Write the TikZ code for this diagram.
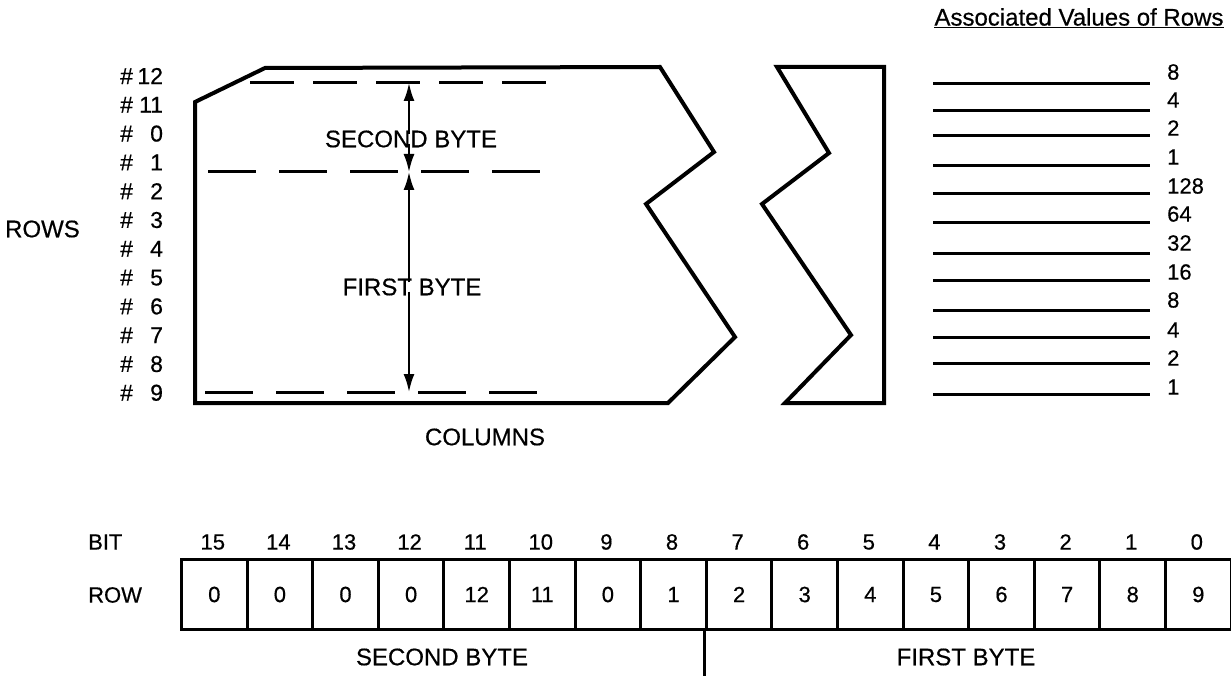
\documentclass[tikz,border=0pt]{standalone}
\usepackage{fontspec}
\setmainfont{Liberation Sans}[FakeBold=0.5]
\usetikzlibrary{arrows.meta}
\begin{document}
\begin{tikzpicture}[x=1pt,y=-1pt,
  big/.style={font=\fontsize{24}{28}\selectfont, inner sep=0pt},
  num/.style={font=\fontsize{22}{26}\selectfont, inner sep=0pt},
  rowlab/.style={font=\fontsize{23}{27}\selectfont, inner sep=0pt},
  card/.style={line width=4pt, line join=miter},
  dashln/.style={line width=3pt},
  valline/.style={line width=3pt},
  cell/.style={draw, line width=3pt, minimum width=65.6pt, minimum height=70pt, inner sep=0pt, font=\fontsize{22}{26}\selectfont, anchor=north west},
  arr/.style={line width=2pt, -{Latex[length=18pt,width=11pt]}}
]
\useasboundingbox (0,0) rectangle (1231,676);

% ---- card pieces ----
\draw[card] (195,102) -- (265,68) -- (660,67) -- (714,152) -- (646,204) -- (735,337) -- (668,403) -- (195,403) -- cycle;
\draw[card] (777,67) -- (829,153) -- (762,204) -- (851,335) -- (785,403) -- (884,403) -- (884,67) -- cycle;

% ---- dashed lines ----
\coordinate (d1a) at (250,83);  \coordinate (d1b) at (547,83);
\coordinate (d2a) at (208,172); \coordinate (d2b) at (540,172);
\coordinate (d3a) at (205,392); \coordinate (d3b) at (543,392);
\draw[dashln, dash pattern=on 44pt off 19pt] (d1a) -- (d1b);
\draw[dashln, dash pattern=on 48pt off 23pt] (d2a) -- (d2b);
\draw[dashln, dash pattern=on 48pt off 23pt] (d3a) -- (d3b);

% ---- byte arrows ----
\node[big] (sb) at (411,139) {SECOND BYTE};
\node[big] (fb) at (412,287) {FIRST BYTE};
\coordinate (t1) at (409,83);
\coordinate (t2) at (409,172);
\coordinate (t3) at (409,392);
\draw[arr] ([yshift=-4pt]sb.north -| t1) -- (t1);
\draw[arr] ([yshift=4pt]sb.south -| t1) -- (t2);
\draw[arr] ([yshift=-4pt]fb.north -| t1) -- (t2);
\draw[arr] ([yshift=4pt]fb.south -| t1) -- (t3);

% ---- row labels ----
\node[big, anchor=east] (rows) at (80,229) {ROWS};
\foreach \n [count=\i from 0] in {12,11,0,1,2,3,4,5,6,7,8,9} {
  \node[rowlab, anchor=west] (r\i) at (120,{76+28.8*\i}) {\#\makebox[30pt][r]{\n}};
}
\node[big] (cols) at (485,437) {COLUMNS};

% ---- associated values ----
\node[big] (assoc) at (1079,18) {\underline{Associated Values of Rows}};
\foreach \ly/\ny/\v [count=\i] in {84/72/8,111/100/4,136/128/2,166/157/1,194/186/128,223/214/64,254/243/32,281/272/16,310/300/8,337/330/4,363/358/2,394/387/1} {
  \coordinate (la\i) at (933,\ly);
  \coordinate (lb\i) at (1150,\ly);
  \draw[valline] (la\i) -- (lb\i);
  \node[num, anchor=west] (v\i) at (1167,\ny) {\v};
}

% ---- bit table ----
\node[num, anchor=west] (bitlbl) at (88,542) {BIT};
\node[num, anchor=west] (rowlbl) at (88,595) {ROW};
\foreach \v [count=\i from 0] in {0,0,0,0,12,11,0,1,2,3,4,5,6,7,8,9} {
  \pgfmathtruncatemacro{\bit}{15-\i}
  \node[cell] (c\i) at ({180+65.6*\i},558) {\v};
  \node[num] (b\i) at ({180+65.6*\i+32.8},542) {\bit};
}
\coordinate (dv) at (c8.south west |- 0,676);
\draw[line width=3pt] (c8.south west) -- (dv);
\node[big] (sb2) at (442,657) {SECOND BYTE};
\node[big] (fb2) at (966,657) {FIRST BYTE};
\end{tikzpicture}
\end{document}
